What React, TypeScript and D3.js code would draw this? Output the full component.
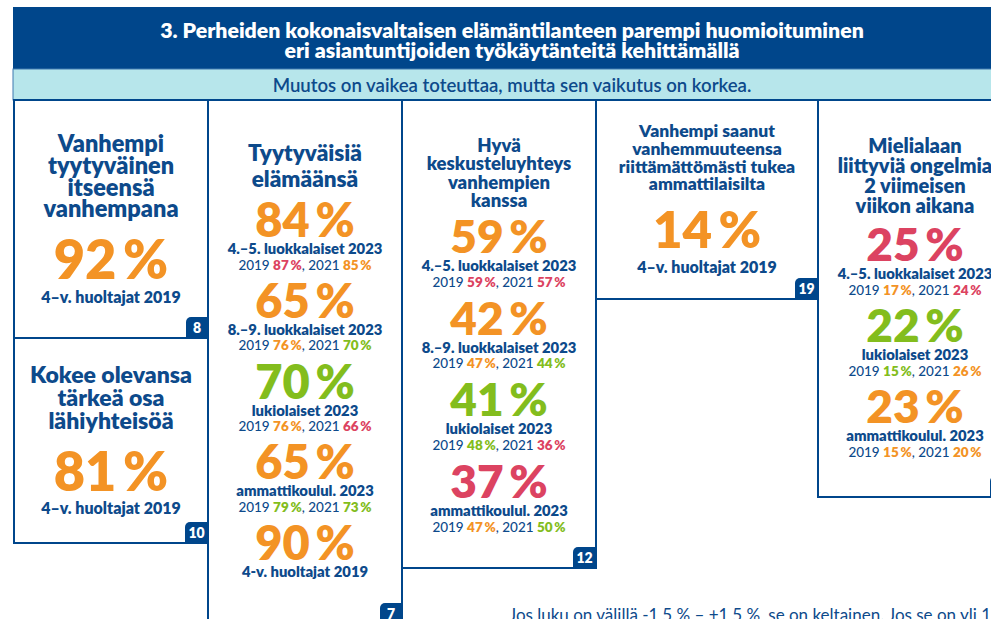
import React from "react";
import * as d3 from "d3";

const W = 991;
const H = 619;

// texts
const headerLines = [
  "3. Perheiden kokonaisvaltaisen elämäntilanteen parempi huomioituminen",
  "eri asiantuntijoiden työkäytänteitä kehittämällä",
];
const subtitle = "Muutos on vaikea toteuttaa, mutta sen vaikutus on korkea.";
const footnote =
  "Jos luku on välillä -1,5 % – +1,5 %, se on keltainen. Jos se on yli 1,5 %, se on vihreä tai punainen.";

// cards
const cardNumbers = ["8", "10", "7", "12", "19", ""];
const cardTitles = [
  ["Vanhempi", "tyytyväinen", "itseensä", "vanhempana"],
  ["Kokee olevansa", "tärkeä osa", "lähiyhteisöä"],
  ["Tyytyväisiä", "elämäänsä"],
  ["Hyvä", "keskusteluyhteys", "vanhempien", "kanssa"],
  ["Vanhempi saanut", "vanhemmuuteensa", "riittämättömästi tukea", "ammattilaisilta"],
  ["Mielialaan", "liittyviä ongelmia", "2 viimeisen", "viikon aikana"],
];
const groupLabels = [
  ["4–v. huoltajat 2019"],
  ["4–v. huoltajat 2019"],
  ["4.–5. luokkalaiset 2023", "8.–9. luokkalaiset 2023", "lukiolaiset 2023", "ammattikoulul. 2023", "4-v. huoltajat 2019"],
  ["4.–5. luokkalaiset 2023", "8.–9. luokkalaiset 2023", "lukiolaiset 2023", "ammattikoulul. 2023"],
  ["4–v. huoltajat 2019"],
  ["4.–5. luokkalaiset 2023", "lukiolaiset 2023", "ammattikoulul. 2023"],
];
// main values (2023 or 2019) and their colour class
const values = [[92], [81], [84, 65, 70, 65, 90], [59, 42, 41, 37], [14], [25, 22, 23]];
const valueColors = [["o"], ["o"], ["o", "o", "g", "o", "o"], ["o", "o", "g", "r"], ["o"], ["r", "g", "o"]];
// earlier years
const values2019 = [[], [], [87, 76, 76, 79], [59, 47, 48, 47], [], [17, 15, 15]];
const colors2019 = [[], [], ["r", "o", "o", "g"], ["r", "o", "g", "o"], [], ["o", "g", "o"]];
const values2021 = [[], [], [85, 70, 66, 73], [57, 44, 36, 50], [], [24, 26, 20]];
const colors2021 = [[], [], ["o", "g", "r", "g"], ["r", "g", "r", "g"], [], ["r", "o", "o"]];

// layout of the cards
const layout = [
  { x: 14, y: 100, w: 194, h: 238, titleY: 152, titleSize: 23.5, titleLH: 21.8, statY: 279, statSize: 54, step: 0, labelSize: 16, labelDy: 24 },
  { x: 14, y: 338, w: 194, h: 205, titleY: 383, titleSize: 23, titleLH: 23, statY: 491, statSize: 54, step: 0, labelSize: 16, labelDy: 23 },
  { x: 208, y: 100, w: 194, h: 524, titleY: 161, titleSize: 22.5, titleLH: 26, statY: 237, statSize: 47, step: 80.8, labelSize: 14.8, labelDy: 17 },
  { x: 402, y: 100, w: 194, h: 468, titleY: 152, titleSize: 18.5, titleLH: 18.3, statY: 253, statSize: 46, step: 81.7, labelSize: 14.8, labelDy: 18 },
  { x: 596, y: 100, w: 222, h: 199, titleY: 137, titleSize: 17.5, titleLH: 17.8, statY: 248, statSize: 51, step: 0, labelSize: 16, labelDy: 25 },
  { x: 818, y: 100, w: 194, h: 397, titleY: 153, titleSize: 20, titleLH: 20, statY: 261, statSize: 46, step: 81, labelSize: 14.8, labelDy: 18 },
];

const NAVY = "#00468b";
const TEXT = "#0d4a8b";
const FONT = "Lato, 'Open Sans', sans-serif";

const colorScale = d3
  .scaleOrdinal<string, string>()
  .domain(["o", "r", "g"])
  .range(["#f39325", "#dc4361", "#83bd1d"]);

const pct = (v: number) => `${v}\u2009%`;

function badgePath(x: number, y: number, w: number, h: number, r: number) {
  const p = d3.path();
  p.moveTo(x, y + h);
  p.lineTo(x, y + r);
  p.arcTo(x, y, x + r, y, r);
  p.lineTo(x + w, y);
  p.lineTo(x + w, y + h);
  p.closePath();
  return p.toString();
}

const Card = ({ i }: { i: number }) => {
  const L = layout[i];
  const cx = L.x + L.w / 2;
  const yStat = d3
    .scaleLinear()
    .domain([0, 1])
    .range([L.statY, L.statY + L.step]);
  const bw = cardNumbers[i].length > 1 ? 23 : 22;
  const by = i === 2 ? 603 : L.y + L.h - 21;
  return (
    <g>
      <rect x={L.x} y={L.y} width={L.w} height={L.h} fill="#fff" stroke={NAVY} strokeWidth={2} />
      {cardTitles[i].map((t, k) => (
        <text
          key={k}
          x={cx}
          y={L.titleY + k * L.titleLH}
          textAnchor="middle"
          fontSize={L.titleSize}
          fontWeight={800}
          fill={TEXT}
        >
          {t}
        </text>
      ))}
      {values[i].map((v, k) => {
        const y = yStat(k);
        const has = values2019[i][k] != null;
        return (
          <g key={k}>
            <text x={cx} y={y} textAnchor="middle" fontSize={L.statSize} fontWeight={800} fill={colorScale(valueColors[i][k])}>
              {pct(v)}
            </text>
            <text x={cx} y={y + L.labelDy} textAnchor="middle" fontSize={L.labelSize} fontWeight={800} fill={TEXT}>
              {groupLabels[i][k]}
            </text>
            {has && (
              <text x={cx} y={y + L.labelDy + 15.5} textAnchor="middle" fontSize={13.5} fontWeight={500} fill={TEXT}>
                <tspan>2019 </tspan>
                <tspan fontWeight={800} fill={colorScale(colors2019[i][k])}>{pct(values2019[i][k])}</tspan>
                <tspan>, 2021 </tspan>
                <tspan fontWeight={800} fill={colorScale(colors2021[i][k])}>{pct(values2021[i][k])}</tspan>
              </text>
            )}
          </g>
        );
      })}
      <path d={badgePath(L.x + L.w - bw, by, bw, 22, 5)} fill={NAVY} />
      <text x={L.x + L.w - bw / 2} y={by + 16} textAnchor="middle" fontSize={14} fontWeight={800} fill="#fff">
        {cardNumbers[i]}
      </text>
    </g>
  );
};

export default function App() {
  return (
    <svg
      width={W}
      height={H}
      viewBox={`0 0 ${W} ${H}`}
      style={{ position: "absolute", left: 0, top: 0, background: "#fff", fontFamily: FONT }}
    >
      <rect x={0} y={0} width={W} height={H} fill="#fff" />
      <rect x={13} y={7} width={W} height={62} fill={NAVY} />
      <rect x={13} y={69} width={W} height={31} fill="#b7e6eb" stroke="#3f79b0" strokeWidth={1} />
      {headerLines.map((t, k) => (
        <text key={k} x={512} y={38 + k * 19.5} textAnchor="middle" fontSize={21.3} fontWeight={800} fill="#fff">
          {t}
        </text>
      ))}
      <text x={512} y={92} textAnchor="middle" fontSize={18.6} fontWeight={600} fill={TEXT}>
        {subtitle}
      </text>
      {layout.map((_, i) => (
        <Card key={i} i={i} />
      ))}
      <text x={509} y={621} fontSize={17} fill={TEXT}>
        {footnote}
      </text>
    </svg>
  );
}
